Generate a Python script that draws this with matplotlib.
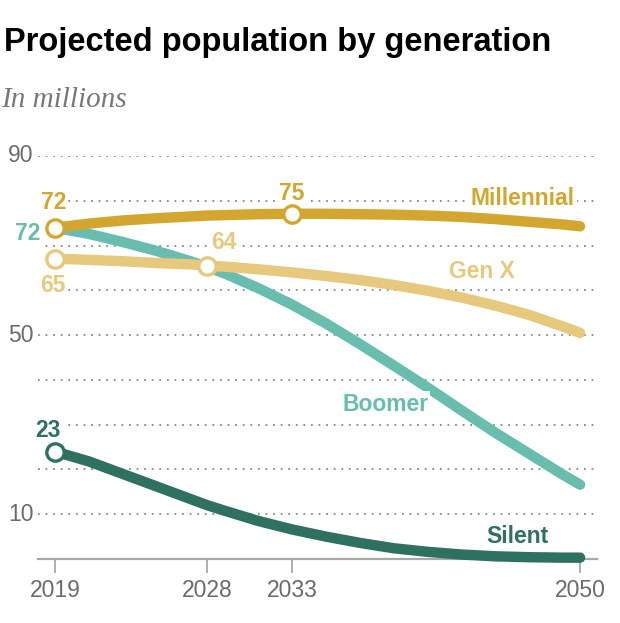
import matplotlib
matplotlib.use("Agg")
import matplotlib.pyplot as plt

# values (millions)
years = [2019, 2021, 2023, 2025, 2027, 2028, 2029, 2031, 2033, 2035,
         2037, 2039, 2041, 2043, 2045, 2047, 2049, 2050]
millennial = [74.0, 74.9, 75.6, 76.1, 76.5, 76.7, 76.8, 77.0, 77.1, 77.1,
              77.0, 76.9, 76.7, 76.4, 75.9, 75.3, 74.7, 74.3]
gen_x = [67.1, 66.8, 66.5, 66.1, 65.8, 65.5, 65.3, 64.7, 64.0, 63.2,
         62.3, 61.2, 59.9, 58.4, 56.6, 54.5, 51.9, 50.5]
boomer = [74.0, 72.6, 70.8, 68.8, 66.5, 65.2, 63.8, 60.5, 56.8, 52.6,
          48.0, 43.2, 38.3, 33.2, 28.2, 23.5, 18.8, 16.6]
silent = [24.0, 21.8, 19.0, 16.2, 13.4, 12.0, 10.8, 8.5, 6.6, 5.0,
          3.6, 2.4, 1.6, 1.0, 0.6, 0.4, 0.3, 0.3]

x_ticks = [2019, 2028, 2033, 2050]
y_ticks = [10, 50, 90]
grid_levels = [10, 20, 30, 40, 50, 60, 70, 80, 90]

c_mill = '#D3A72F'
c_genx = '#E6C97D'
c_boom = '#68BDAE'
c_sil = '#2E7161'
grey = '#6b6b6b'

sans = 'Liberation Sans'

W, H = 620, 623
fig = plt.figure(figsize=(W/100, H/100), dpi=100)
# axes placed so that 2019..2050 and 0..90 land where the reference puts them
ax = fig.add_axes([38/W, (H-559)/H, 559/W, 403/H])
ax.set_xlim(2018.0, 2051.0)
ax.set_ylim(0, 90)
for s in ax.spines.values():
    s.set_visible(False)
ax.set_xticks([])
ax.set_yticks([])

for g in grid_levels:
    ax.axhline(g, color='#888888', lw=1.3, ls=(0, (1, 3.2)), zorder=1)
ax.axhline(0, color='#a8a8a8', lw=1.6, zorder=1, clip_on=False)

for t in x_ticks:
    ax.plot([t, t], [0, -3.0], color='#a8a8a8', lw=1.3, clip_on=False)
    ax.text(t, -7.0, str(t), ha='center', va='center', fontsize=16.5,
            color=grey, family=sans)
for v in y_ticks:
    ax.text(2017.75, v, str(v), ha='right', va='center', fontsize=16.5,
            color=grey, family=sans)

lw = 7.5
ax.plot(years, silent, color=c_sil, lw=lw, solid_capstyle='round', zorder=3, clip_on=False)
ax.plot(years, boomer, color=c_boom, lw=lw, solid_capstyle='round', zorder=3)
ax.plot(years, gen_x, color=c_genx, lw=lw, solid_capstyle='round', zorder=3)
ax.plot(years, millennial, color=c_mill, lw=lw, solid_capstyle='round', zorder=4)

def dot(x, y, c):
    ax.plot([x], [y], 'o', ms=12.5, mfc='white', mec=c, mew=2.4, zorder=6)

dot(2019, gen_x[0], c_genx)
dot(2028, gen_x[years.index(2028)], c_genx)
dot(2019, millennial[0], c_mill)
dot(2033, millennial[years.index(2033)], c_mill)
dot(2019, silent[0], c_sil)

box = dict(facecolor='white', edgecolor='none', pad=1.5)

def lab(x, y, s, c, **kw):
    ax.text(x, y, s, color=c, fontsize=16.5, fontweight='bold', family=sans,
            ha='center', va='center', bbox=box, zorder=5, **kw)

lab(2018.9, 79.7, '72', c_mill)
lab(2017.4, 72.7, '72', c_boom)
lab(2018.9, 61.0, '65', c_genx)
lab(2029.0, 70.6, '64', c_genx)
lab(2033.0, 81.6, '75', c_mill)
lab(2018.6, 28.6, '23', c_sil)
lab(2046.6, 80.6, 'Millennial', c_mill)
lab(2044.2, 64.1, 'Gen X', c_genx)
lab(2038.5, 34.4, 'Boomer', c_boom)
lab(2046.3, 5.0, 'Silent', c_sil)

fig.text(4/W, 1-42/H, 'Projected population by generation', fontsize=23.5,
         fontweight='bold', family=sans, ha='left', va='center', color='black')
fig.text(1/W, 1-100/H, 'In millions', fontsize=21, style='italic',
         family='Liberation Serif', ha='left', va='center', color='#777777')

fig.savefig('out.png', dpi=100)
